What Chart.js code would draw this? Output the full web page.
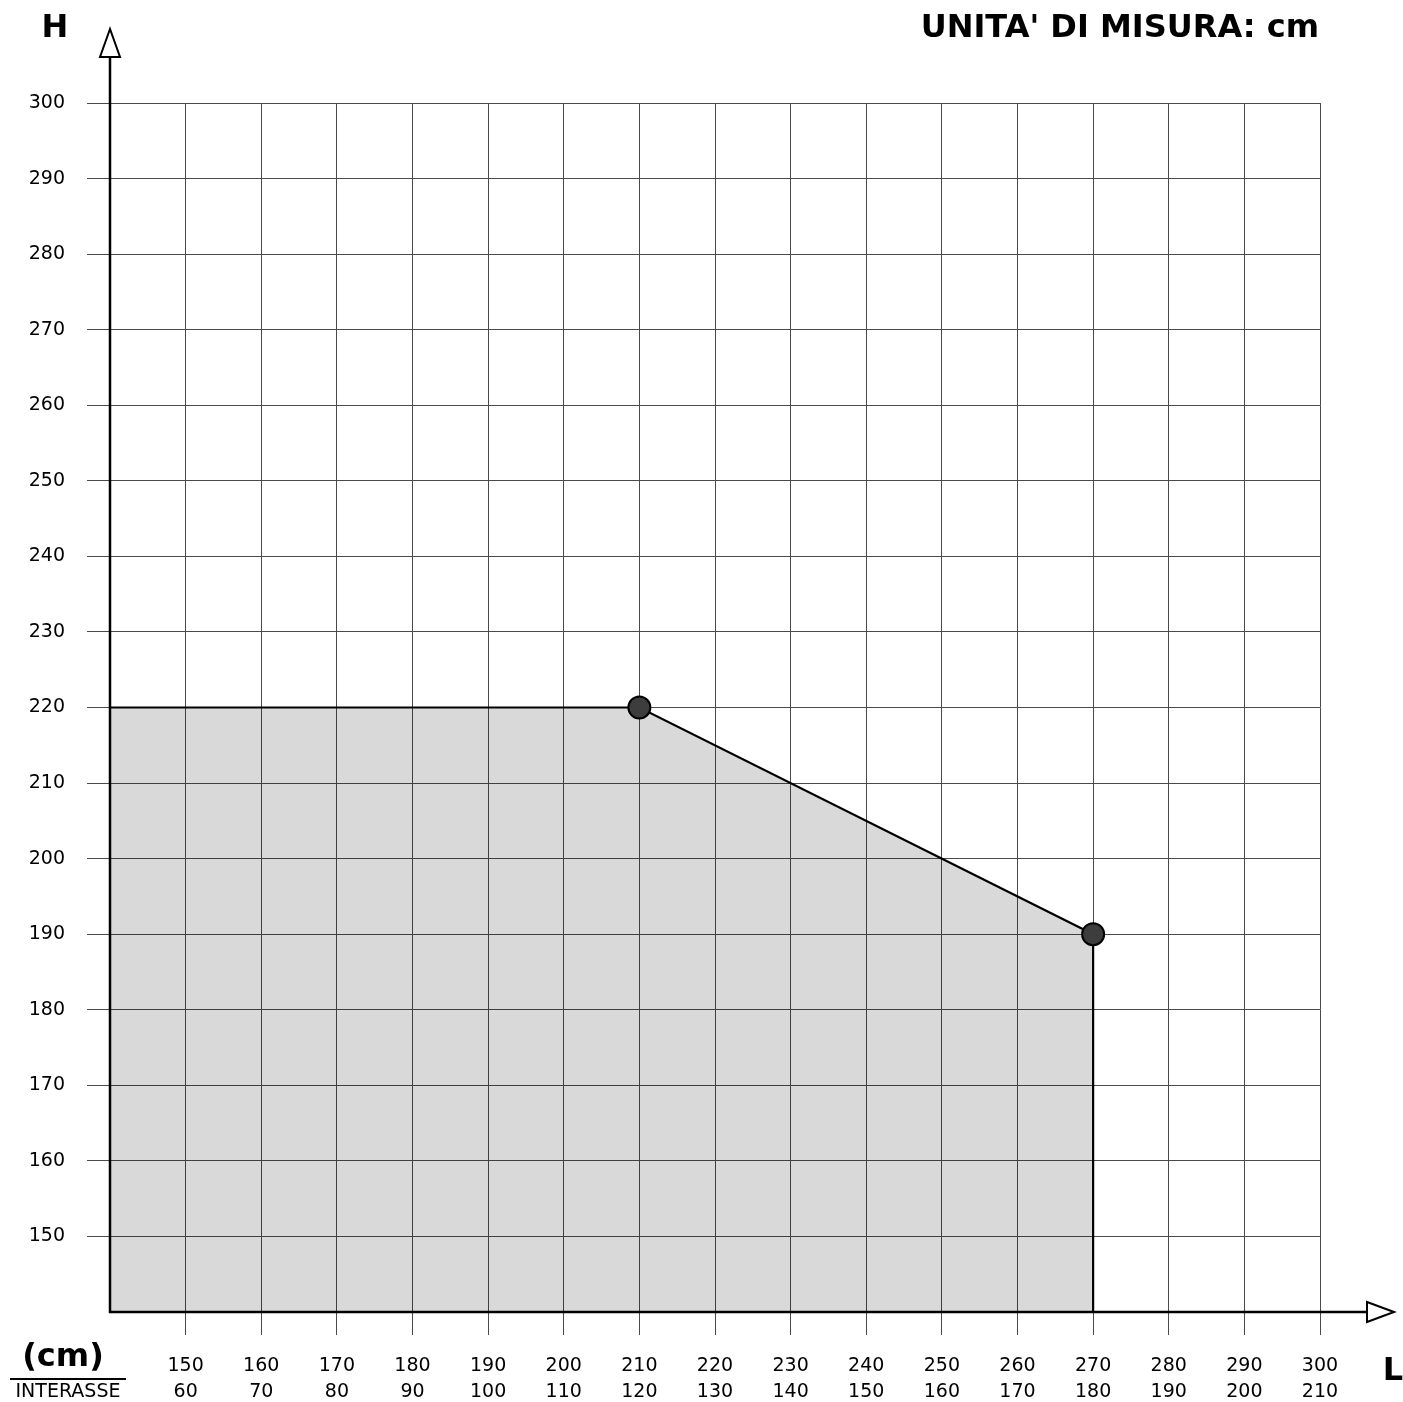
<!DOCTYPE html>
<html>
<head>
<meta charset="utf-8">
<script src="https://cdn.jsdelivr.net/npm/chart.js@4.4.1/dist/chart.umd.min.js"></script>
<style>
  html, body { margin: 0; padding: 0; background: #fff; }
  canvas { display: block; }
</style>
</head>
<body>
<canvas id="campo" width="1403" height="1402"></canvas>
<script>
// valori
const lengthTicks = [150, 160, 170, 180, 190, 200, 210, 220, 230, 240, 250, 260, 270, 280, 290, 300];
const interasse   = [60, 70, 80, 90, 100, 110, 120, 130, 140, 150, 160, 170, 180, 190, 200, 210];
const heightTicks = [150, 160, 170, 180, 190, 200, 210, 220, 230, 240, 250, 260, 270, 280, 290, 300];
const fieldL = [140, 210, 270, 270];
const fieldH = [220, 220, 190, 140];
const markRadius = [0, 11, 11, 0];

const font = 'DejaVu Sans, Verdana, sans-serif';

// niente griglia sulla linea d'origine (140), ci pensa l'asse
const gridColor = c => (c.tick && c.tick.value === 140) ? 'rgba(0,0,0,0)' : '#4a4a4a';

const decorations = {
    id: 'decorations',
    afterDraw(chart) {
        const ctx = chart.ctx;
        const x0 = chart.scales.x.left;
        const y0 = chart.scales.y.bottom;
        ctx.save();
        ctx.strokeStyle = '#000';
        ctx.lineWidth = 2.5;
        // assi
        ctx.beginPath();
        ctx.moveTo(x0, y0 + 1);
        ctx.lineTo(x0, 57);
        ctx.moveTo(x0 - 1, y0);
        ctx.lineTo(1367, y0);
        ctx.stroke();
        // frecce
        ctx.lineWidth = 2;
        ctx.fillStyle = '#fff';
        ctx.beginPath();
        ctx.moveTo(x0, 29);
        ctx.lineTo(x0 - 10, 57);
        ctx.lineTo(x0 + 10, 57);
        ctx.closePath();
        ctx.fill();
        ctx.stroke();
        ctx.beginPath();
        ctx.moveTo(1394, y0);
        ctx.lineTo(1367, y0 - 10);
        ctx.lineTo(1367, y0 + 10);
        ctx.closePath();
        ctx.fill();
        ctx.stroke();

        ctx.fillStyle = '#000';
        ctx.textBaseline = 'middle';
        ctx.font = 'bold 32px ' + font;
        ctx.textAlign = 'center';
        ctx.fillText('H', 55, 29);
        ctx.fillText('L', 1393, 1372);
        ctx.fillText('(cm)', 63, 1358);
        ctx.textAlign = 'right';
        ctx.fillText("UNITA' DI MISURA: cm", 1319, 29);

        ctx.beginPath();
        ctx.moveTo(10, 1379);
        ctx.lineTo(126, 1379);
        ctx.stroke();

        ctx.font = '19px ' + font;
        ctx.textAlign = 'center';
        ctx.fillText('INTERASSE', 68, 1392);
        ctx.restore();
    }
};

let ctx = document.getElementById('campo').getContext('2d');
let fieldChart = new Chart(ctx, {
    type: 'scatter',
    data: {
        datasets: [{
            data: fieldL.map((l, i) => ({ x: l, y: fieldH[i] })),
            showLine: true,
            borderColor: '#000',
            borderWidth: 2.2,
            backgroundColor: 'rgba(0,0,0,0.15)',
            fill: 'start',
            tension: 0,
            pointRadius: markRadius,
            pointBackgroundColor: '#3d3d3d',
            pointBorderColor: '#000',
            pointBorderWidth: 2
        }]
    },
    options: {
        responsive: false,
        animation: false,
        layout: {
            padding: { left: 0, right: 83, top: 103, bottom: 0 }
        },
        plugins: {
            legend: { display: false },
            tooltip: { enabled: false }
        },
        scales: {
            x: {
                type: 'linear',
                min: 140,
                max: 300,
                afterFit: scale => { scale.height = 90; },
                border: { display: false },
                grid: { color: gridColor, lineWidth: 1, tickLength: 23 },
                ticks: {
                    stepSize: 10,
                    maxRotation: 0,
                    autoSkip: false,
                    padding: 18,
                    color: '#000',
                    font: { family: font, size: 19, lineHeight: 1.37 },
                    callback: v => {
                        let i = lengthTicks.indexOf(v);
                        return i < 0 ? '' : [String(lengthTicks[i]), String(interasse[i])];
                    }
                }
            },
            y: {
                type: 'linear',
                min: 140,
                max: 300,
                afterFit: scale => { scale.width = 110; },
                border: { display: false },
                grid: { color: gridColor, lineWidth: 1, tickLength: 23 },
                ticks: {
                    stepSize: 10,
                    autoSkip: false,
                    padding: 22,
                    color: '#000',
                    font: { family: font, size: 19 },
                    callback: v => heightTicks.includes(v) ? String(v) : ''
                }
            }
        }
    },
    plugins: [decorations]
});
</script>
</body>
</html>
